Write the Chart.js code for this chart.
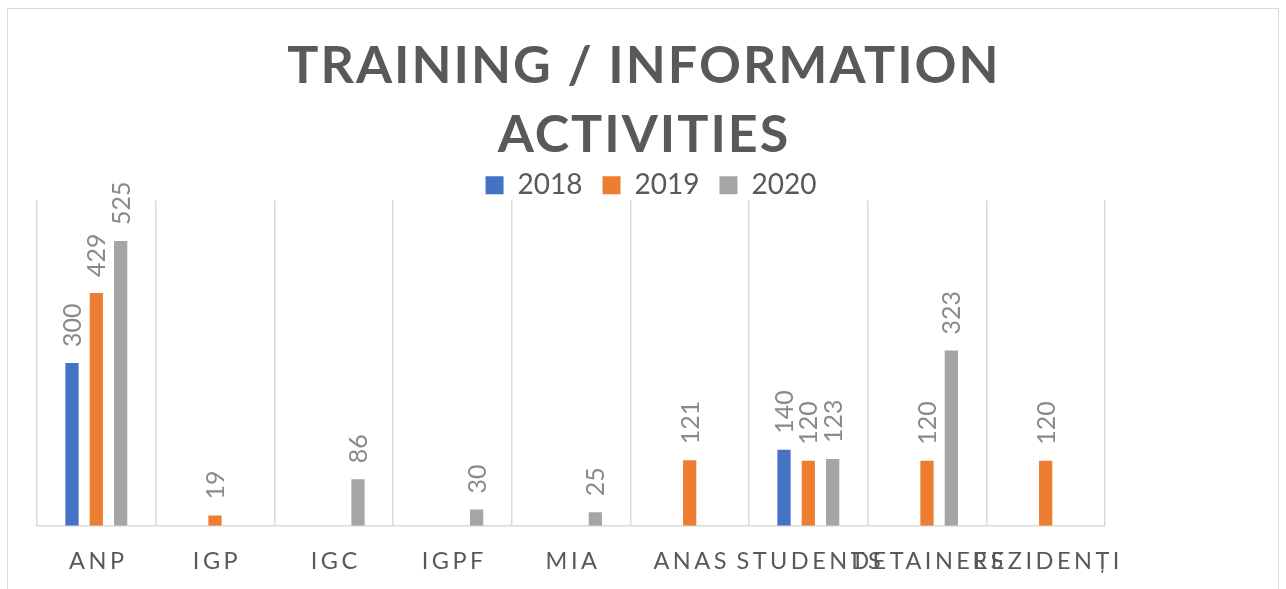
<!DOCTYPE html>
<html>
<head>
<meta charset="utf-8">
<title>Training / Information Activities</title>
<script src="https://cdn.jsdelivr.net/npm/chart.js@4.4.0/dist/chart.umd.min.js"></script>
<style>
body { margin: 0; background: #fff; overflow: hidden; }
canvas { display: block; }
</style>
</head>
<body>
<canvas id="myChart" width="1286" height="598"></canvas>
<script>
var categories = ['ANP', 'IGP', 'IGC', 'IGPF', 'MIA', 'ANAS', 'STUDENTS', 'DETAINEES', 'REZIDENȚI'];
var years = ['2018', '2019', '2020'];
var values2018 = [300, null, null, null, null, null, 140, null, null];
var values2019 = [429, 19, null, null, null, 121, 120, 120, 120];
var values2020 = [525, null, 86, 30, 25, null, 123, 323, null];
var titleLines = ['TRAINING / INFORMATION', 'ACTIVITIES'];

var colors = ['#4472C4', '#ED7D31', '#A5A5A5'];
var grey = '#595959';

// white page + thin frame like the excel chart area
var framePlugin = {
  id: 'frame',
  beforeDraw: function(chart) {
    var ctx = chart.ctx;
    ctx.save();
    ctx.fillStyle = '#fff';
    ctx.fillRect(0, 0, chart.width, chart.height);
    ctx.strokeStyle = '#d9d9d9';
    ctx.lineWidth = 1;
    ctx.strokeRect(7.5, 8.5, 1271, 640);
    ctx.restore();
  }
};

// wrap a draw method of a box to tweak the context (letter spacing / shift)
function wrap(obj, name, spacing, dx, dy) {
  if (!obj || obj['_w_' + name]) return;
  var orig = obj[name];
  obj[name] = function() {
    var ctx = this.ctx;
    ctx.save();
    ctx.letterSpacing = spacing;
    ctx.translate(dx, dy);
    orig.apply(this, arguments);
    ctx.restore();
  };
  obj['_w_' + name] = true;
}
var tweakPlugin = {
  id: 'tweak',
  beforeLayout: function(chart) {
    wrap(chart.titleBlock, 'draw', '2px', 1, 0);
    wrap(chart.legend, 'draw', '0px', 8, 9);
    wrap(chart.scales.x, 'drawLabels', '3.5px', 2, 0);
  }
};

// rotated value labels above the bars
var valueLabels = {
  id: 'valueLabels',
  afterDatasetsDraw: function(chart) {
    var ctx = chart.ctx;
    ctx.save();
    ctx.font = '25px Lato';
    ctx.fillStyle = '#8a8a8a';
    ctx.textAlign = 'left';
    ctx.textBaseline = 'middle';
    chart.data.datasets.forEach(function(ds, i) {
      var meta = chart.getDatasetMeta(i);
      meta.data.forEach(function(bar, j) {
        var v = ds.data[j];
        if (v === null) return;
        ctx.save();
        ctx.translate(bar.x + 1, bar.y - 16);
        ctx.rotate(-Math.PI / 2);
        ctx.fillText(String(v), 0, 0);
        ctx.restore();
      });
    });
    ctx.restore();
  }
};

var chartdata = {
  labels: categories,
  datasets: [
    { label: years[0], data: values2018, backgroundColor: colors[0] },
    { label: years[1], data: values2019, backgroundColor: colors[1] },
    { label: years[2], data: values2020, backgroundColor: colors[2] }
  ]
};

var options = {
  responsive: false,
  animation: false,
  datasets: {
    bar: { categoryPercentage: 0.615, barPercentage: 0.545 }
  },
  layout: { padding: { left: 37, right: 37, top: 32, bottom: 0 } },
  plugins: {
    title: {
      display: true,
      text: titleLines,
      color: grey,
      font: { family: 'Lato', size: 52, weight: 'bold', lineHeight: 1.32 },
      padding: { top: 0, bottom: -27 }
    },
    legend: {
      display: true,
      labels: {
        color: grey,
        font: { family: 'Lato', size: 28 },
        boxWidth: 18,
        boxHeight: 18,
        padding: 20
      }
    },
    tooltip: { enabled: false }
  },
  scales: {
    x: {
      grid: { display: true, color: '#d9d9d9', lineWidth: 1.5, drawTicks: false },
      border: { display: true, color: '#d9d9d9', width: 1.5 },
      ticks: {
        color: grey,
        font: { family: 'Lato', size: 23.5 },
        autoSkip: false,
        maxRotation: 0,
        minRotation: 0,
        padding: 22
      }
    },
    y: {
      position: 'right',
      min: 0,
      max: 600,
      grid: { display: false },
      border: { display: false },
      ticks: { display: false },
      afterFit: function(scale) { scale.width = 144; }
    }
  }
};

var graph = new Chart(document.getElementById('myChart'), {
  type: 'bar',
  data: chartdata,
  options: options,
  plugins: [framePlugin, tweakPlugin, valueLabels]
});
</script>
</body>
</html>
